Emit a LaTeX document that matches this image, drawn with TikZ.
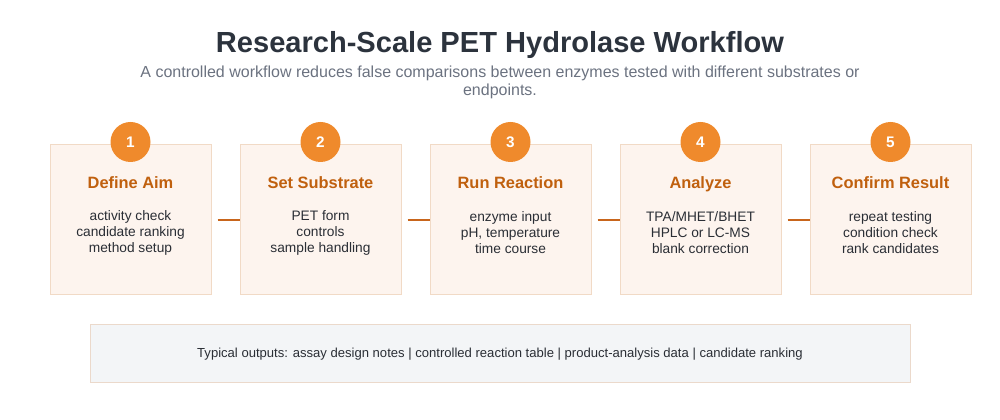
\documentclass[tikz,border=0pt]{standalone}
\usepackage{fontspec}
\setmainfont{Liberation Sans}
\usetikzlibrary{positioning}
\tikzset{stepbox/.style = {draw = mborder, fill = mcream, line width = 0.75pt, minimum width = 120.75pt, minimum height = 112.5pt, inner sep = 0}}
\tikzset{badge/.style = {fill = morange, circle, inner sep = 0, minimum size = 30pt, text = white, font = \bfseries\fontsize{11.5}{13}\selectfont}}
\tikzset{steptitle/.style = {anchor = base, text = mdark, font = \bfseries\fontsize{12.3}{14}\selectfont}}
\tikzset{stepbody/.style = {text = mtext, align = center, font = \fontsize{10.3}{12}\selectfont}}
\tikzset{link/.style = {draw = mline, line width = 1.5pt, shorten <= 4.5pt}}
\definecolor{mborder}{HTML}{F1DAC6}
\definecolor{mcream}{HTML}{FDF4EE}
\definecolor{morange}{HTML}{EF8A2C}
\definecolor{mdark}{HTML}{C0600E}
\definecolor{mline}{HTML}{C8651B}
\definecolor{mtext}{HTML}{2A2E35}
\definecolor{mtitle}{HTML}{2C333D}
\definecolor{msub}{HTML}{6B7280}
\definecolor{mgrey}{HTML}{F3F5F7}
\definecolor{mgreyline}{HTML}{EBD9CB}

\begin{document}
\begin{tikzpicture}[x = 0.75pt, y = -0.75pt]
    \useasboundingbox (0, 0) rectangle (1000, 420);

    \node [text = mtitle, font = \bfseries\fontsize{21.8}{25}\selectfont] (title) at (500, 45) {Research-Scale PET Hydrolase Workflow};
    \node [text = msub, align = center, font = \fontsize{12}{13.5}\selectfont] (subtitle) at (500, 82) {A controlled workflow reduces false comparisons between enzymes tested with different substrates or\\endpoints.};

    \node [stepbox] (box1) at (130.5, 220) {};
    \node [stepbox] (box2) at (320.5, 220) {};
    \node [stepbox] (box3) at (510.5, 220) {};
    \node [stepbox] (box4) at (700.5, 220) {};
    \node [stepbox] (box5) at (890.5, 220) {};

    \node [badge] (num1) at (130.5, 142) {1};
    \node [badge] (num2) at (320.5, 142) {2};
    \node [badge] (num3) at (510.5, 142) {3};
    \node [badge] (num4) at (700.5, 142) {4};
    \node [badge] (num5) at (890.5, 142) {5};

    \node [steptitle] (head1) at (130.5, 189) {Define Aim};
    \node [steptitle] (head2) at (320.5, 189) {Set Substrate};
    \node [steptitle] (head3) at (510.5, 189) {Run Reaction};
    \node [steptitle] (head4) at (700.5, 189) {Analyze};
    \node [steptitle] (head5) at (890.5, 189) {Confirm Result};

    \node [stepbody] (body1) at (130.5, 232.5) {activity check\\candidate ranking\\method setup};
    \node [stepbody] (body2) at (320.5, 232.5) {PET form\\controls\\sample handling};
    \node [stepbody] (body3) at (510.5, 232.5) {enzyme input\\pH, temperature\\time course};
    \node [stepbody] (body4) at (700.5, 232.5) {TPA/MHET/BHET\\HPLC or LC-MS\\blank correction};
    \node [stepbody] (body5) at (890.5, 232.5) {repeat testing\\condition check\\rank candidates};

    \draw [link] (box1.east) -- (box2.west);
    \draw [link] (box2.east) -- (box3.west);
    \draw [link] (box3.east) -- (box4.west);
    \draw [link] (box4.east) -- (box5.west);

    \node [draw = mgreyline, fill = mgrey, line width = 0.75pt, minimum width = 615pt, minimum height = 43.5pt, text = mtext, font = \fontsize{9.8}{11}\selectfont] (outputs) at (500, 354) {Typical outputs: assay design notes | controlled reaction table | product-analysis data | candidate ranking};
  \end{tikzpicture}
\end{document}
